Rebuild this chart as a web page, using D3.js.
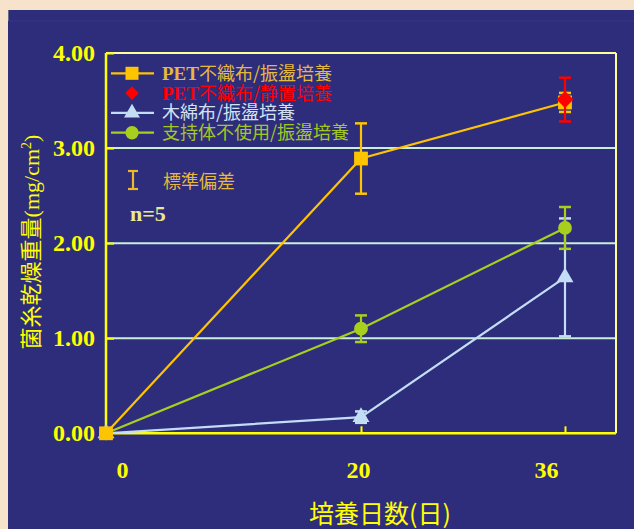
<!DOCTYPE html>
<meta charset="utf-8">
<style>
  body { margin: 0; background: #f7e3cb; }
  svg { display: block; }
  .cjk { font-family: "Noto Sans CJK JP", sans-serif; }
  .num { font-family: "Liberation Serif", "Times New Roman", serif; font-weight: bold; }
</style>
<body>
<div id="chart"></div>
<script src="https://cdn.jsdelivr.net/npm/d3@7"></script>
<script>
  // days of culture
  var days = [0, 20, 36];
  var xTicks = [0, 20, 36];
  var yTicks = [0, 1, 2, 3, 4];

  // PET nonwoven / shaking culture
  var petShake = [0, 2.89, 3.48];
  var petShakeSD = [0, 0.37, 0.10];
  // PET nonwoven / static culture (only day 36)
  var petStaticDays = [36];
  var petStatic = [3.51];
  var petStaticSD = [0.23];
  // cotton / shaking
  var cotton = [0, 0.17, 1.64];
  var cottonSD = [0, 0.06, 0.62];
  // no support / shaking
  var noSupport = [0, 1.10, 2.16];
  var noSupportSD = [0, 0.14, 0.22];

  var legendLabels = [
    ["PET", "不織布/振盪培養"],
    ["PET", "不織布/静置培養"],
    ["", "木綿布/振盪培養"],
    ["", "支持体不使用/振盪培養"]
  ];

  var W = 634, H = 529;
  var svg = d3.select("#chart").append("svg").attr("width", W).attr("height", H);

  // navy panel
  svg.append("rect").attr("x", 8).attr("y", 10).attr("width", W - 8).attr("height", H - 10).attr("fill", "#2d2d7c");
  svg.append("line").attr("x1", 8).attr("x2", W).attr("y1", 21).attr("y2", 21)
    .attr("stroke", "#36368c").attr("stroke-width", 1);
  svg.append("line").attr("x1", 8.5).attr("x2", 8.5).attr("y1", 10).attr("y2", 21)
    .attr("stroke", "#6a6a8a").attr("stroke-width", 1);

  var x = d3.scaleLinear().domain([0, 40]).range([106, 616]);
  var y = d3.scaleLinear().domain([0, 4]).range([433.3, 53]);

  // grid lines
  svg.append("g").selectAll("line").data([1, 2, 3]).enter().append("line")
    .attr("x1", x(0)).attr("x2", x(40))
    .attr("y1", d => y(d)).attr("y2", d => y(d))
    .attr("stroke", "#c8f0d8").attr("stroke-width", 2);

  // top and right frame
  svg.append("line").attr("x1", x(0)).attr("x2", x(40)).attr("y1", y(4)).attr("y2", y(4))
    .attr("stroke", "#ffff99").attr("stroke-width", 2);
  svg.append("line").attr("x1", x(40)).attr("x2", x(40)).attr("y1", y(4)).attr("y2", y(0))
    .attr("stroke", "#ffff99").attr("stroke-width", 2);

  // axes
  var yAxis = d3.axisLeft(y).tickValues(yTicks).tickFormat(d3.format(".2f"))
    .tickSize(-8).tickPadding(11);
  var gy = svg.append("g").attr("transform", "translate(" + x(0) + ",0)").call(yAxis);

  var xAxis = d3.axisBottom(x).tickValues(xTicks).tickFormat(d3.format("d"))
    .tickSize(-7).tickPadding(28);
  var gx = svg.append("g").attr("transform", "translate(0," + y(0) + ")").call(xAxis);

  [gx, gy].forEach(function (g) {
    g.select(".domain").attr("stroke", "#ffff00").attr("stroke-width", 2.5);
    g.selectAll(".tick line").attr("stroke", "#ffff00").attr("stroke-width", 2);
    g.selectAll(".tick text").attr("class", "num").attr("fill", "#ffff00").style("font-size", "24px");
  });
  gx.select(".domain").attr("d", "M" + x(0) + ",0H" + x(40));
  gy.select(".domain").attr("d", "M0," + y(4) + "V" + y(0));
  gy.selectAll(".tick").filter(d => d === 0).select("line").remove();
  gx.selectAll(".tick").filter(d => d === 0).select("line").remove();
  // labels in the original sit a little off their ticks
  var xLabelShift = { 0: 16, 20: -3, 36: -19 };
  gx.selectAll(".tick text").attr("dx", d => xLabelShift[d]);

  // axis titles
  var yt = svg.append("text")
    .attr("transform", "translate(39,242) rotate(-90)")
    .attr("text-anchor", "middle")
    .attr("fill", "#ffff00")
    .style("font-size", "22px");
  yt.append("tspan").attr("class", "cjk").text("菌糸乾燥重量");
  yt.append("tspan").style("font-family", "Liberation Serif, serif").text("(mg/cm");
  yt.append("tspan").style("font-family", "Liberation Serif, serif").style("font-size", "14px").attr("dy", -8).text("2");
  yt.append("tspan").style("font-family", "Liberation Serif, serif").attr("dy", 8).text(")");

  svg.append("text").attr("class", "cjk")
    .attr("x", 380).attr("y", 523)
    .attr("text-anchor", "middle")
    .attr("fill", "#ffff00")
    .style("font-size", "25px")
    .text("培養日数(日)");

  // series
  var line = d3.line().x(d => x(d[0])).y(d => y(d[1]));

  function zip(xs, ys, es) {
    return xs.map((d, i) => [d, ys[i], es[i]]);
  }

  var series = [
    { pts: zip(days, cotton, cottonSD), color: "#c2ddf4", marker: "triangle", line: true },
    { pts: zip(days, noSupport, noSupportSD), color: "#a9cf1e", marker: "circle", line: true },
    { pts: zip(days, petShake, petShakeSD), color: "#ffc400", marker: "square", line: true },
    { pts: zip(petStaticDays, petStatic, petStaticSD), color: "#ff0000", marker: "diamond", line: false }
  ];

  // diamond = square turned 45 degrees
  var symbolTypes = {
    triangle: d3.symbolTriangle, circle: d3.symbolCircle,
    square: d3.symbolSquare, diamond: d3.symbolSquare
  };
  var symbolSizes = { triangle: 125, circle: 150, square: 190, diamond: 145 };
  var legendSizes = { triangle: 110, circle: 140, square: 170, diamond: 92 };

  function rot(m) { return m === "diamond" ? " rotate(45)" : ""; }

  series.forEach(function (s) {
    var g = svg.append("g");
    if (s.line) {
      g.append("path").datum(s.pts).attr("d", line)
        .attr("fill", "none").attr("stroke", s.color).attr("stroke-width", 2.2);
    }
    var eb = g.selectAll(".err").data(s.pts.filter(d => d[2] > 0)).enter().append("g");
    eb.append("line")
      .attr("x1", d => x(d[0])).attr("x2", d => x(d[0]))
      .attr("y1", d => y(d[1] + d[2])).attr("y2", d => y(d[1] - d[2]))
      .attr("stroke", s.color).attr("stroke-width", 2.2);
    [1, -1].forEach(function (sg) {
      eb.append("line")
        .attr("x1", d => x(d[0]) - 6).attr("x2", d => x(d[0]) + 6)
        .attr("y1", d => y(d[1] + sg * d[2])).attr("y2", d => y(d[1] + sg * d[2]))
        .attr("stroke", s.color).attr("stroke-width", 2.5);
    });
    g.selectAll(".mk").data(s.pts).enter().append("path")
      .attr("transform", d => "translate(" + x(d[0]) + "," + y(d[1]) + ")" + rot(s.marker))
      .attr("d", d3.symbol().type(symbolTypes[s.marker]).size(symbolSizes[s.marker]))
      .attr("fill", s.color);
  });

  // legend
  var legendOrder = [
    { color: "#ffc400", text: "#e6b83c", marker: "square", line: true },
    { color: "#ff0000", text: "#ff0000", marker: "diamond", line: false },
    { color: "#c2ddf4", text: "#d2e2f2", marker: "triangle", line: true },
    { color: "#a9cf1e", text: "#a4c822", marker: "circle", line: true }
  ];
  var lg = svg.append("g");
  legendOrder.forEach(function (l, i) {
    var ly = 73.3 + i * 19.8;
    if (l.line) {
      lg.append("line").attr("x1", 111).attr("x2", 154).attr("y1", ly).attr("y2", ly)
        .attr("stroke", l.color).attr("stroke-width", 2.2);
    }
    lg.append("path")
      .attr("transform", "translate(132," + ly + ")" + rot(l.marker))
      .attr("d", d3.symbol().type(symbolTypes[l.marker]).size(legendSizes[l.marker]))
      .attr("fill", l.color);
    var t = lg.append("text").attr("x", 162).attr("y", ly + 6.5).attr("fill", l.text).style("font-size", "18px");
    if (legendLabels[i][0]) {
      t.append("tspan").attr("class", "num").style("font-size", "19px").text(legendLabels[i][0]);
    }
    t.append("tspan").attr("class", "cjk").text(legendLabels[i][1]);
  });

  // standard deviation note
  var sd = svg.append("g").attr("stroke", "#f0b828").attr("stroke-width", 2.2);
  sd.append("line").attr("x1", 133).attr("x2", 133).attr("y1", 171).attr("y2", 189);
  sd.append("line").attr("x1", 128).attr("x2", 138).attr("y1", 171).attr("y2", 171);
  sd.append("line").attr("x1", 128).attr("x2", 138).attr("y1", 189).attr("y2", 189);
  svg.append("text").attr("class", "cjk").attr("x", 163).attr("y", 188)
    .attr("fill", "#e6b83c").style("font-size", "18px").text("標準偏差");
  svg.append("text").attr("class", "num").attr("x", 130).attr("y", 221)
    .attr("fill", "#eee88c").style("font-size", "22px").text("n=5");
</script>
</body>
